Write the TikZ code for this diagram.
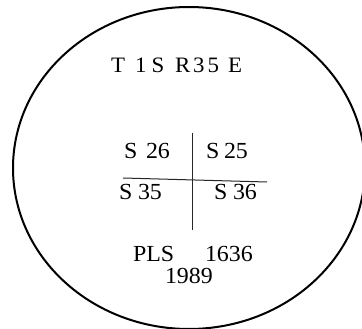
\documentclass[tikz,border=0pt]{standalone}
\usepackage{fontspec}
\setmainfont{Liberation Serif}[FakeStretch=1.04]
\usetikzlibrary{shapes.geometric}
\begin{document}
\begin{tikzpicture}[x=1pt,y=-1pt,
  tt/.style={anchor=base west,inner sep=0pt,outer sep=0pt,font=\fontsize{22}{22}\selectfont},
  ct/.style={anchor=base west,inner sep=0pt,outer sep=0pt,font=\fontsize{23}{23}\selectfont},
  rule/.style={line width=1pt,black!85}]
\useasboundingbox (0,0) rectangle (362,329);
\clip (0,0) rectangle (362,329);
\node[draw,ellipse,line width=2pt,minimum width=352pt,minimum height=322pt,inner sep=0pt] (oval) at (189,168) {};
% title
\node[tt] (t1) at (111,73) {T};
\node[tt] (t2) at (135,73) {1};
\node[tt] (t3) at (151.5,73) {S};
\node[tt] (t4) at (175,73) {R};
\node[tt] (t5) at (193,73) {3};
\node[tt] (t6) at (207.5,73) {5};
\node[tt] (t7) at (228,73) {E};
% grid
\coordinate (vtop) at (192,133);
\coordinate (vbot) at (192,230);
\coordinate (hl) at (123,178);
\coordinate (hr) at (267,182);
\draw[rule] (vtop) -- (vbot);
\draw[rule] (hl) -- (hr);
\node[ct] (a1) at (124,159) {S};
\node[ct] (a2) at (146,159) {26};
\node[ct] (b1) at (206,159) {S};
\node[ct] (b2) at (224,159) {25};
\node[ct] (c1) at (119,200) {S};
\node[ct] (c2) at (138,200) {35};
\node[ct] (d1) at (214,200) {S};
\node[ct] (d2) at (233,200) {36};
% bottom
\node[ct] (p1) at (133,261) {PLS};
\node[ct] (p2) at (205,261) {1636};
\node[ct] (yr) at (165,283) {1989};
\end{tikzpicture}
\end{document}
